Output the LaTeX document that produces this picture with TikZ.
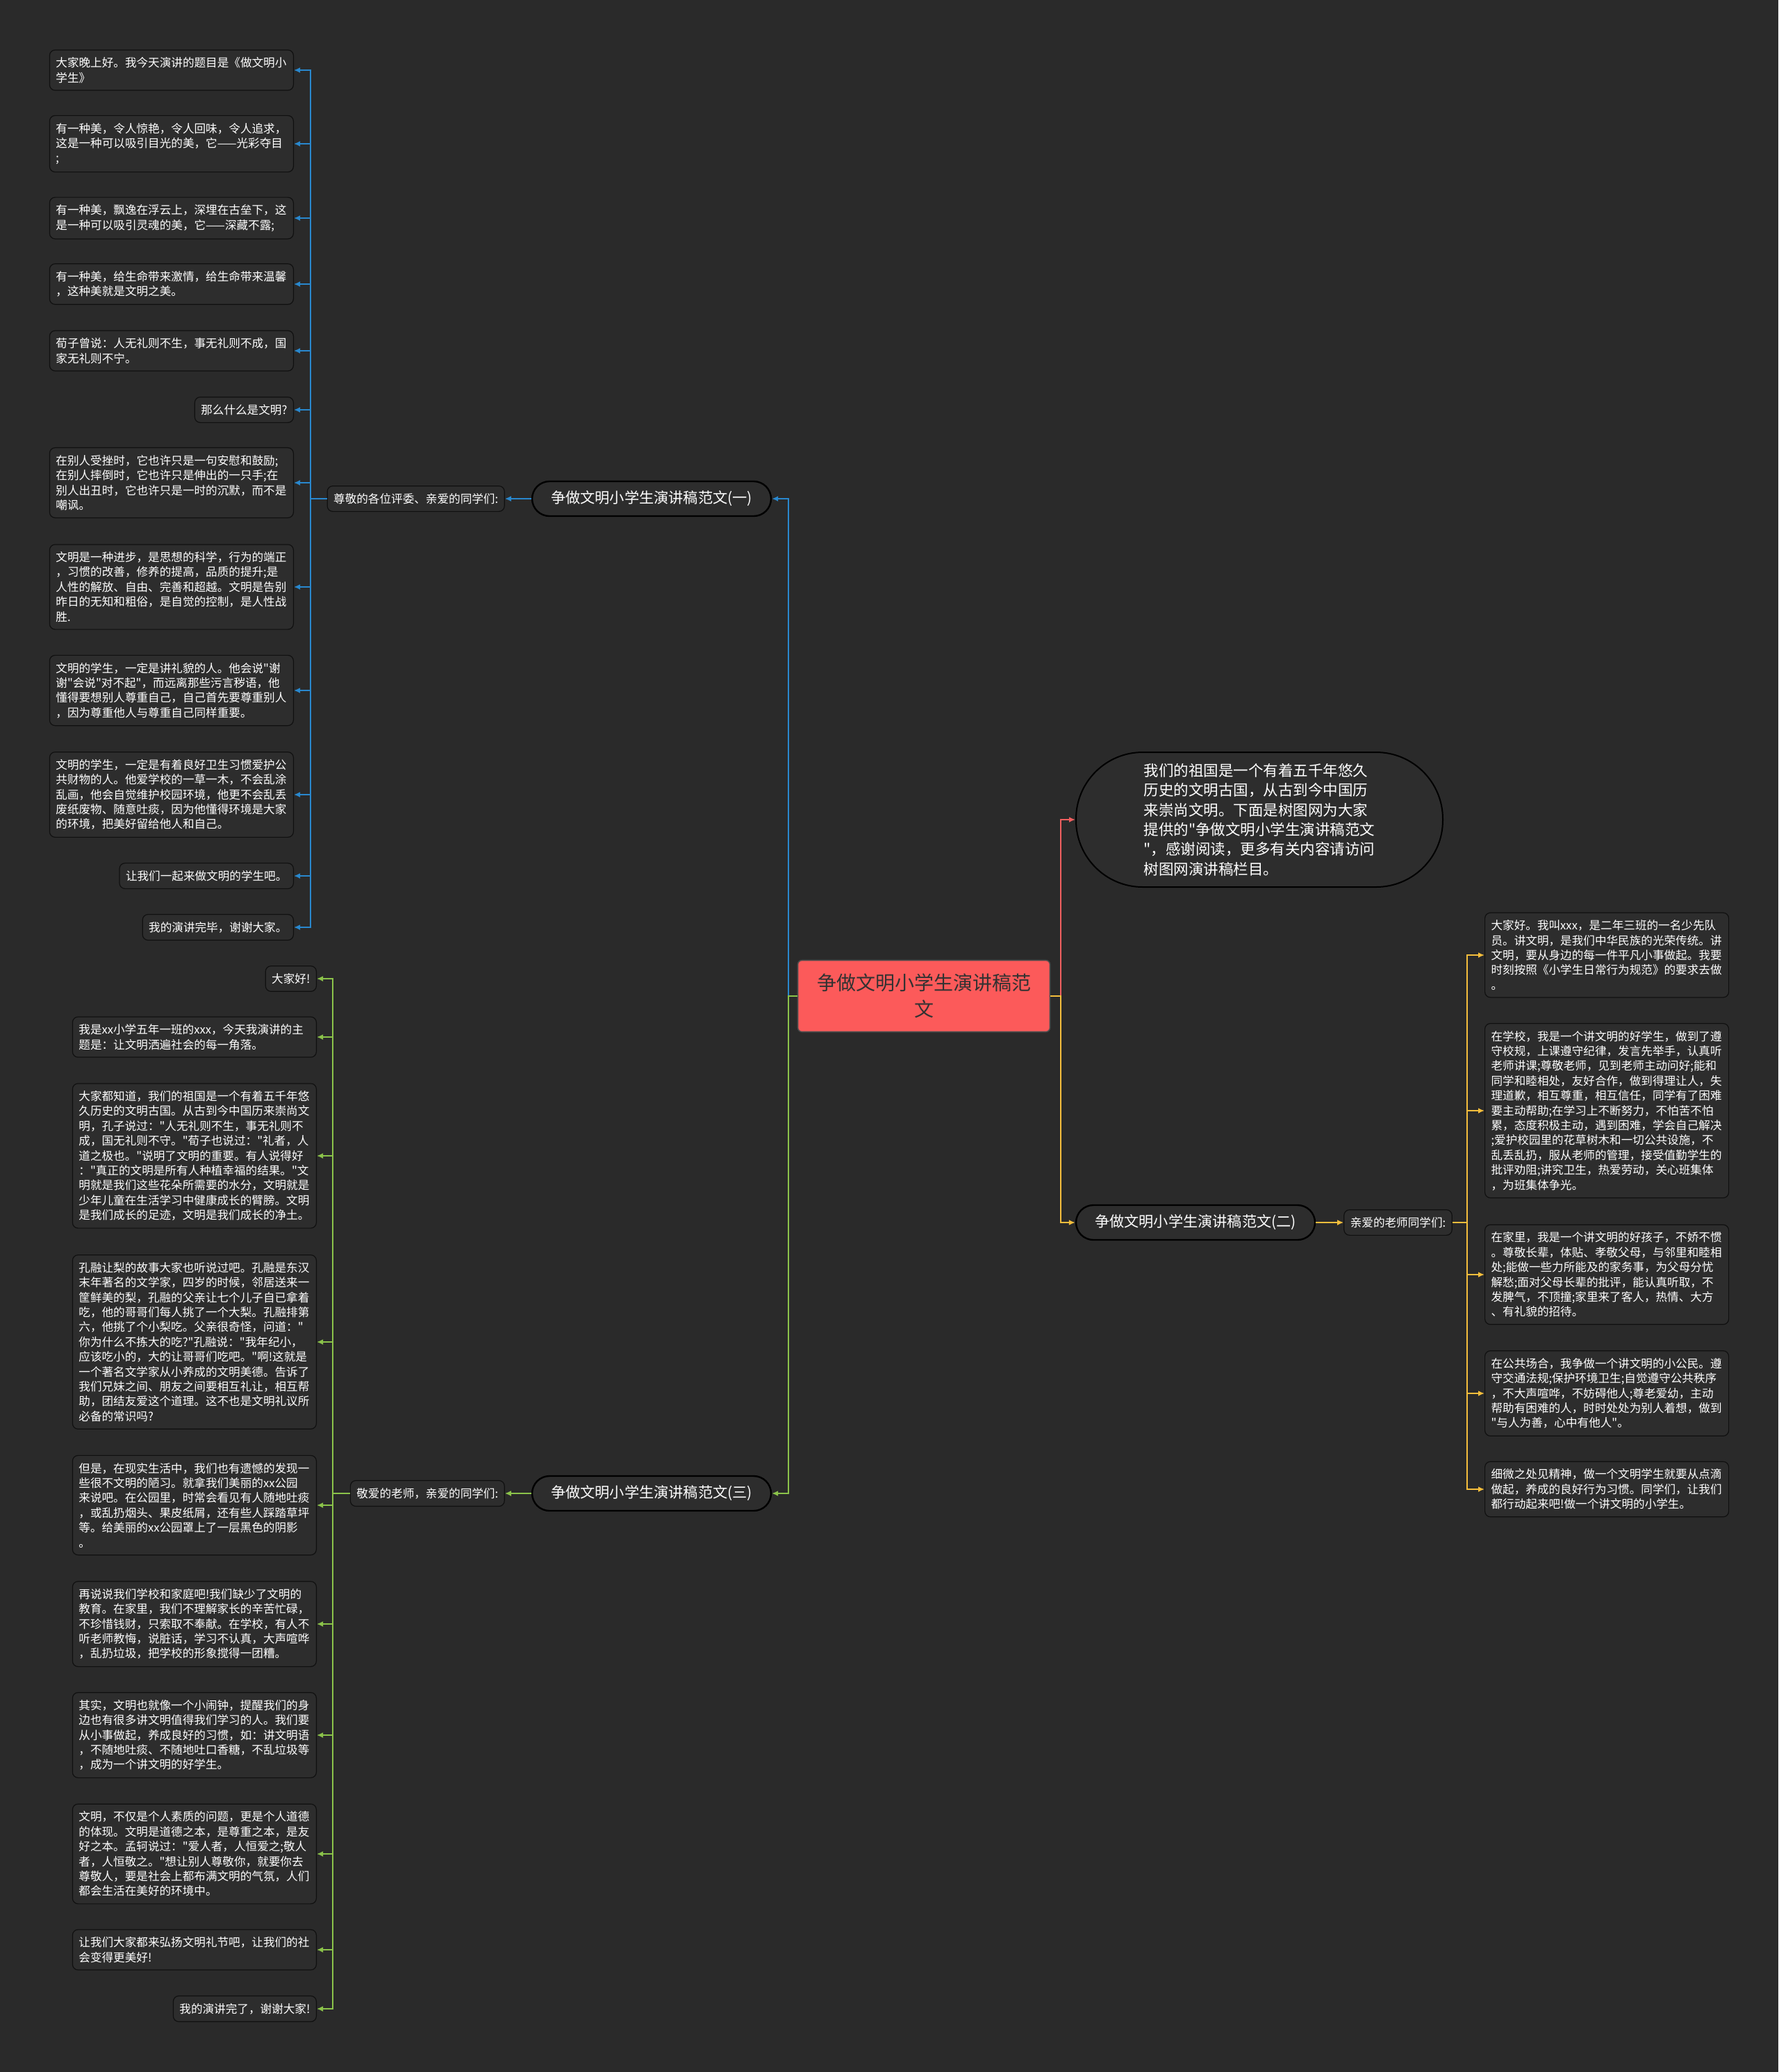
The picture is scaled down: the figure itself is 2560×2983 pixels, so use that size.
\documentclass[tikz,border=0pt]{standalone}
\usepackage{fontspec}
\newfontfamily\zhfont{Noto Sans CJK SC}
\usepackage{tikz}
\usetikzlibrary{positioning,arrows.meta}

\definecolor{fond}{RGB}{42,42,42}
\definecolor{boxfill}{RGB}{45,45,45}
\definecolor{boxline}{RGB}{16,16,16}
\definecolor{bleu}{RGB}{41,136,206}
\definecolor{vert}{RGB}{139,195,74}
\definecolor{jaune}{RGB}{245,190,60}
\definecolor{rouge}{RGB}{240,95,95}
\definecolor{rootfill}{RGB}{252,90,90}
\definecolor{roottext}{RGB}{50,50,50}

\begin{document}
\begin{tikzpicture}[x=0.5pt, y=-0.5pt,
  leaf node/.style={draw=boxline, fill=boxfill, rounded corners=4pt, line width=0.6pt, text=white, align=left, inner xsep=4.5pt, inner ysep=5.3pt, font=\zhfont\fontsize{8.3}{10.7}\selectfont},
  wide node/.style={leaf node, text width=166.5pt},
  branch node/.style={draw=black, fill=boxfill, line width=1.2pt, rounded corners=12.5pt, minimum width=172pt, minimum height=25pt, text=white, font=\zhfont\fontsize{10.6}{13}\selectfont},
  root node/.style={draw=black!70, fill=rootfill, line width=0.8pt, rounded corners=3pt, minimum width=181.5pt, minimum height=51.5pt, align=center, text=roottext, font=\zhfont\fontsize{14}{19}\selectfont},
  intro node/.style={draw=black, fill=boxfill, line width=1pt, rounded corners=48pt, minimum width=264pt, minimum height=97pt, align=left, text=white, font=\zhfont\fontsize{10.75}{14.2}\selectfont},
  lien/.style={line width=1pt, -{Latex[length=4.5pt,width=4pt]}}]

  \fill[fond] (0,0) rectangle (2560,2983);

  % Centre et branches
  \node[root node] (root) at (1330,1434) {争做文明小学生演讲稿范\\文};
  \node[intro node] (intro) at (1813,1180) {我们的祖国是一个有着五千年悠久\\历史的文明古国，从古到今中国历\\来崇尚文明。下面是树图网为大家\\提供的"争做文明小学生演讲稿范文\\"，感谢阅读，更多有关内容请访问\\树图网演讲稿栏目。};
  \node[branch node] (br1) at (938,718) {争做文明小学生演讲稿范文(一)};
  \node[branch node] (br2) at (1721,1760) {争做文明小学生演讲稿范文(二)};
  \node[branch node] (br3) at (938,2150) {争做文明小学生演讲稿范文(三)};
  \node[leaf node] (lab1) [left=19pt of br1] {尊敬的各位评委、亲爱的同学们:};
  \node[leaf node] (lab2) [right=20pt of br2] {亲爱的老师同学们:};
  \node[leaf node] (lab3) [left=19pt of br3] {敬爱的老师，亲爱的同学们:};

  \coordinate (jl) at (1135,1434);
  \coordinate (jr) at (1527,1434);
  \coordinate (jb) at (447,718);
  \coordinate (jg) at (479,2150);
  \coordinate (jy) at (2112,1760);

  % Branche (一)
  \node[wide node, anchor=east] (b1) at (423,101) {大家晚上好。我今天演讲的题目是《做文明小\\学生》};
  \node[wide node, anchor=east] (b2) at (423,207) {有一种美，令人惊艳，令人回味，令人追求，\\这是一种可以吸引目光的美，它——光彩夺目\\;};
  \node[wide node, anchor=east] (b3) at (423,314) {有一种美，飘逸在浮云上，深埋在古垒下，这\\是一种可以吸引灵魂的美，它——深藏不露;};
  \node[wide node, anchor=east] (b4) at (423,409) {有一种美，给生命带来激情，给生命带来温馨\\，这种美就是文明之美。};
  \node[wide node, anchor=east] (b5) at (423,505) {荀子曾说：人无礼则不生，事无礼则不成，国\\家无礼则不宁。};
  \node[leaf node, anchor=east] (b6) at (423,590) {那么什么是文明?};
  \node[wide node, anchor=east] (b7) at (423,695) {在别人受挫时，它也许只是一句安慰和鼓励;\\在别人摔倒时，它也许只是伸出的一只手;在\\别人出丑时，它也许只是一时的沉默，而不是\\嘲讽。};
  \node[wide node, anchor=east] (b8) at (423,845) {文明是一种进步，是思想的科学，行为的端正\\，习惯的改善，修养的提高，品质的提升;是\\人性的解放、自由、完善和超越。文明是告别\\昨日的无知和粗俗，是自觉的控制，是人性战\\胜.};
  \node[wide node, anchor=east] (b9) at (423,994) {文明的学生，一定是讲礼貌的人。他会说"谢\\谢"会说"对不起"，而远离那些污言秽语，他\\懂得要想别人尊重自己，自己首先要尊重别人\\，因为尊重他人与尊重自己同样重要。};
  \node[wide node, anchor=east] (b10) at (423,1144) {文明的学生，一定是有着良好卫生习惯爱护公\\共财物的人。他爱学校的一草一木，不会乱涂\\乱画，他会自觉维护校园环境，他更不会乱丢\\废纸废物、随意吐痰，因为他懂得环境是大家\\的环境，把美好留给他人和自己。};
  \node[leaf node, anchor=east] (b11) at (423,1261) {让我们一起来做文明的学生吧。};
  \node[leaf node, anchor=east] (b12) at (423,1335) {我的演讲完毕，谢谢大家。};

  % Branche (三)
  \node[leaf node, anchor=east] (g1) at (456,1409) {大家好!};
  \node[wide node, anchor=east] (g2) at (456,1493) {我是xx小学五年一班的xxx，今天我演讲的主\\题是：让文明洒遍社会的每一角落。};
  \node[wide node, anchor=east] (g3) at (456,1664) {大家都知道，我们的祖国是一个有着五千年悠\\久历史的文明古国。从古到今中国历来崇尚文\\明，孔子说过："人无礼则不生，事无礼则不\\成，国无礼则不守。"荀子也说过："礼者，人\\道之极也。"说明了文明的重要。有人说得好\\："真正的文明是所有人种植幸福的结果。"文\\明就是我们这些花朵所需要的水分，文明就是\\少年儿童在生活学习中健康成长的臂膀。文明\\是我们成长的足迹，文明是我们成长的净土。};
  \node[wide node, anchor=east] (g4) at (456,1932) {孔融让梨的故事大家也听说过吧。孔融是东汉\\末年著名的文学家，四岁的时候，邻居送来一\\筐鲜美的梨，孔融的父亲让七个儿子自已拿着\\吃，他的哥哥们每人挑了一个大梨。孔融排第\\六，他挑了个小梨吃。父亲很奇怪，问道："\\你为什么不拣大的吃?"孔融说："我年纪小，\\应该吃小的，大的让哥哥们吃吧。"啊!这就是\\一个著名文学家从小养成的文明美德。告诉了\\我们兄妹之间、朋友之间要相互礼让，相互帮\\助，团结友爱这个道理。这不也是文明礼议所\\必备的常识吗?};
  \node[wide node, anchor=east] (g5) at (456,2167) {但是，在现实生活中，我们也有遗憾的发现一\\些很不文明的陋习。就拿我们美丽的xx公园\\来说吧。在公园里，时常会看见有人随地吐痰\\，或乱扔烟头、果皮纸屑，还有些人踩踏草坪\\等。给美丽的xx公园罩上了一层黑色的阴影\\。};
  \node[wide node, anchor=east] (g6) at (456,2338) {再说说我们学校和家庭吧!我们缺少了文明的\\教育。在家里，我们不理解家长的辛苦忙碌，\\不珍惜钱财，只索取不奉献。在学校，有人不\\听老师教悔，说脏话，学习不认真，大声喧哗\\，乱扔垃圾，把学校的形象搅得一团糟。};
  \node[wide node, anchor=east] (g7) at (456,2498) {其实，文明也就像一个小闹钟，提醒我们的身\\边也有很多讲文明值得我们学习的人。我们要\\从小事做起，养成良好的习惯，如：讲文明语\\，不随地吐痰、不随地吐口香糖，不乱垃圾等\\，成为一个讲文明的好学生。};
  \node[wide node, anchor=east] (g8) at (456,2669) {文明，不仅是个人素质的问题，更是个人道德\\的体现。文明是道德之本，是尊重之本，是友\\好之本。孟轲说过："爱人者，人恒爱之;敬人\\者，人恒敬之。"想让别人尊敬你，就要你去\\尊敬人，要是社会上都布满文明的气氛，人们\\都会生活在美好的环境中。};
  \node[wide node, anchor=east] (g9) at (456,2807) {让我们大家都来弘扬文明礼节吧，让我们的社\\会变得更美好!};
  \node[leaf node, anchor=east] (g10) at (456,2892) {我的演讲完了，谢谢大家!};

  % Branche (二)
  \node[wide node, anchor=west] (r1) at (2137,1375) {大家好。我叫xxx，是二年三班的一名少先队\\员。讲文明，是我们中华民族的光荣传统。讲\\文明，要从身边的每一件平凡小事做起。我要\\时刻按照《小学生日常行为规范》的要求去做\\。};
  \node[wide node, anchor=west] (r2) at (2137,1599) {在学校，我是一个讲文明的好学生，做到了遵\\守校规，上课遵守纪律，发言先举手，认真听\\老师讲课;尊敬老师，见到老师主动问好;能和\\同学和睦相处，友好合作，做到得理让人，失\\理道歉，相互尊重，相互信任，同学有了困难\\要主动帮助;在学习上不断努力，不怕苦不怕\\累，态度积极主动，遇到困难，学会自己解决\\;爱护校园里的花草树木和一切公共设施，不\\乱丢乱扔，服从老师的管理，接受值勤学生的\\批评劝阻;讲究卫生，热爱劳动，关心班集体\\，为班集体争光。};
  \node[wide node, anchor=west] (r3) at (2137,1835) {在家里，我是一个讲文明的好孩子，不娇不惯\\。尊敬长辈，体贴、孝敬父母，与邻里和睦相\\处;能做一些力所能及的家务事，为父母分忧\\解愁;面对父母长辈的批评，能认真听取，不\\发脾气，不顶撞;家里来了客人，热情、大方\\、有礼貌的招待。};
  \node[wide node, anchor=west] (r4) at (2137,2006) {在公共场合，我争做一个讲文明的小公民。遵\\守交通法规;保护环境卫生;自觉遵守公共秩序\\，不大声喧哗，不妨碍他人;尊老爱幼，主动\\帮助有困难的人，时时处处为别人着想，做到\\"与人为善，心中有他人"。};
  \node[wide node, anchor=west] (r5) at (2137,2144) {细微之处见精神，做一个文明学生就要从点滴\\做起，养成的良好行为习惯。同学们，让我们\\都行动起来吧!做一个讲文明的小学生。};

  % Liens
  \draw[lien, bleu] (root.west) -- (jl) |- (br1.east);
  \draw[lien, vert] (root.west) -- (jl) |- (br3.east);
  \draw[lien, rouge] (root.east) -- (jr) |- (intro.west);
  \draw[lien, jaune] (root.east) -- (jr) |- (br2.west);
  \draw[lien, bleu] (br1) -- (lab1);
  \draw[lien, vert] (br3) -- (lab3);
  \draw[lien, jaune] (br2) -- (lab2);
  \foreach \i in {1,...,12}
    \draw[lien, bleu] (lab1.west) -- (jb) |- (b\i.east);
  \foreach \i in {1,...,10}
    \draw[lien, vert] (lab3.west) -- (jg) |- (g\i.east);
  \foreach \i in {1,...,5}
    \draw[lien, jaune] (lab2.east) -- (jy) |- (r\i.west);
\end{tikzpicture}
\end{document}
